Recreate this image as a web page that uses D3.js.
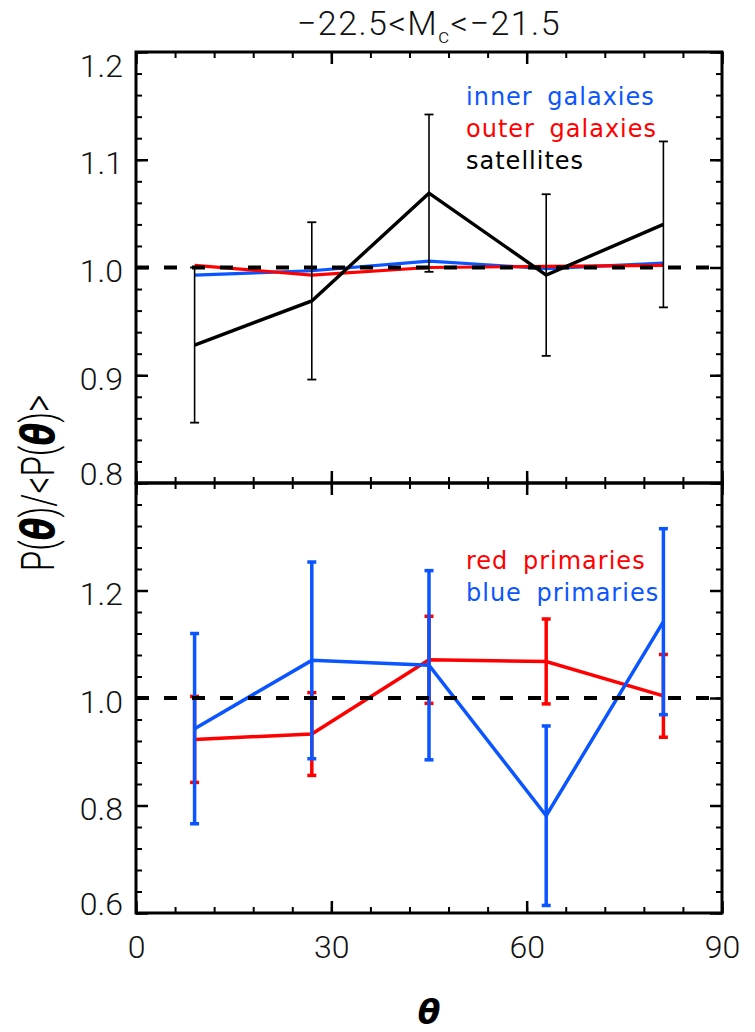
<!DOCTYPE html>
<html>
<head>
<meta charset="utf-8">
<script src="https://cdn.jsdelivr.net/npm/d3@7"></script>
<style>
  body { margin: 0; background: #fff; }
  svg { display: block; }
  .tk text { font-family: Roboto, "DejaVu Sans", sans-serif; font-weight: 300; font-size: 32px; fill: #111; }
</style>
</head>
<body>
<svg id="chart"></svg>
<script>
// angle bins (deg)
var theta = [9, 27, 45, 63, 81];

// top panel
var innerVals = [0.993, 0.997, 1.006, 0.999, 1.004];
var outerVals = [1.002, 0.993, 1.000, 1.001, 1.002];
var satVals = [0.928, 0.969, 1.069, 0.993, 1.040];
var satErr = [0.072, 0.073, 0.073, 0.075, 0.077];

// bottom panel
var redVals = [0.923, 0.933, 1.071, 1.068, 1.004];
var redErr = [0.080, 0.077, 0.081, 0.079, 0.077];
var blueVals = [0.943, 1.070, 1.061, 0.781, 1.142];
var blueErr = [0.177, 0.183, 0.176, 0.167, 0.173];

var xTicks = [0, 30, 60, 90];
var topTicks = [0.8, 0.9, 1.0, 1.1, 1.2];
var botTicks = [0.6, 0.8, 1.0, 1.2];

var BLUE = "#0a55ff", RED = "#ff0000";

var width = 755, height = 1032;
var left = 136, right = 722;
var svg = d3.select("#chart").attr("width", width).attr("height", height);

var x = d3.scaleLinear().domain([0, 90]).range([left, right]);
var yTop = d3.scaleLinear().domain([0.8, 1.2]).range([483, 52]);
var yBot = d3.scaleLinear().domain([0.6, 1.4]).range([913, 483]);

function drawFrame(y, ticks, minorStep, showX) {
  var y0 = y.range()[0], y1 = y.range()[1];
  var h = y0 - y1;
  var minorY = d3.range(y.domain()[0], y.domain()[1] + 1e-9, minorStep);
  var minorX = d3.range(0, 90.001, 6);

  // minor ticks
  svg.append("g").attr("class", "tk").attr("transform", "translate(" + left + ",0)")
    .call(d3.axisLeft(y).tickValues(minorY).tickSize(-6).tickFormat(""))
    .call(function (g) { g.select(".domain").remove(); g.selectAll("line").attr("stroke-width", 2); });
  svg.append("g").attr("class", "tk").attr("transform", "translate(" + right + ",0)")
    .call(d3.axisRight(y).tickValues(minorY).tickSize(-6).tickFormat(""))
    .call(function (g) { g.select(".domain").remove(); g.selectAll("line").attr("stroke-width", 2); });
  svg.append("g").attr("class", "tk").attr("transform", "translate(0," + y0 + ")")
    .call(d3.axisBottom(x).tickValues(minorX).tickSize(-6).tickFormat(""))
    .call(function (g) { g.select(".domain").remove(); g.selectAll("line").attr("stroke-width", 2); });
  svg.append("g").attr("class", "tk").attr("transform", "translate(0," + y1 + ")")
    .call(d3.axisTop(x).tickValues(minorX).tickSize(-6).tickFormat(""))
    .call(function (g) { g.select(".domain").remove(); g.selectAll("line").attr("stroke-width", 2); });

  // major ticks
  var yl = svg.append("g").attr("class", "tk").attr("transform", "translate(" + left + ",0)")
    .call(d3.axisLeft(y).tickValues(ticks).tickSize(-12).tickPadding(13).tickFormat(d3.format(".1f")));
  yl.select(".domain").remove();
  yl.selectAll("line").attr("stroke-width", 2.5);
  yl.selectAll("text").attr("dy", "0.38em").attr("transform", function (d) {
    if (Math.abs(d - y.domain()[1]) < 1e-9) return "translate(0,12)";
    if (Math.abs(d - y.domain()[0]) < 1e-9) return "translate(0,-11)";
    return "translate(0,2)";
  });
  svg.append("g").attr("class", "tk").attr("transform", "translate(" + right + ",0)")
    .call(d3.axisRight(y).tickValues(ticks).tickSize(-12).tickFormat(""))
    .call(function (g) { g.select(".domain").remove(); g.selectAll("line").attr("stroke-width", 2.5); });
  var xb = svg.append("g").attr("class", "tk").attr("transform", "translate(0," + y0 + ")")
    .call(d3.axisBottom(x).tickValues(xTicks).tickSize(-12).tickPadding(22).tickFormat(showX ? d3.format("d") : ""));
  xb.select(".domain").remove();
  xb.selectAll("line").attr("stroke-width", 2.5);
  svg.append("g").attr("class", "tk").attr("transform", "translate(0," + y1 + ")")
    .call(d3.axisTop(x).tickValues(xTicks).tickSize(-12).tickFormat(""))
    .call(function (g) { g.select(".domain").remove(); g.selectAll("line").attr("stroke-width", 2.5); });

  svg.append("rect")
    .attr("x", left).attr("y", y1)
    .attr("width", right - left).attr("height", h)
    .attr("fill", "none").attr("stroke", "#000").attr("stroke-width", 3);
}

function drawLine(y, vals, color, w) {
  var line = d3.line()
    .x(function (d, i) { return x(theta[i]); })
    .y(function (d) { return y(d); });
  svg.append("path")
    .attr("fill", "none").attr("stroke", color).attr("stroke-width", w)
    .attr("stroke-linejoin", "miter")
    .attr("d", line(vals));
}

function drawErr(y, vals, errs, color, w, capW, capH) {
  var g = svg.append("g");
  vals.forEach(function (v, i) {
    var cx = x(theta[i]);
    g.append("line")
      .attr("x1", cx).attr("x2", cx)
      .attr("y1", y(v + errs[i])).attr("y2", y(v - errs[i]))
      .attr("stroke", color).attr("stroke-width", w);
    [v + errs[i], v - errs[i]].forEach(function (e) {
      g.append("line")
        .attr("x1", cx - capW / 2).attr("x2", cx + capW / 2)
        .attr("y1", y(e)).attr("y2", y(e))
        .attr("stroke", color).attr("stroke-width", capH);
    });
  });
}

function drawDash(y) {
  svg.append("line")
    .attr("x1", left).attr("x2", right)
    .attr("y1", y(1)).attr("y2", y(1))
    .attr("stroke", "#000").attr("stroke-width", 4)
    .attr("stroke-dasharray", "13,15");
}

// top panel
drawLine(yTop, innerVals, BLUE, 3.2);
drawLine(yTop, outerVals, RED, 3.2);
drawDash(yTop);
drawErr(yTop, satVals, satErr, "#000", 1.6, 9, 1.8);
drawLine(yTop, satVals, "#000", 3.4);
drawFrame(yTop, topTicks, 0.02, false);

// bottom panel
drawErr(yBot, redVals, redErr, RED, 3.5, 9, 3.5);
drawLine(yBot, redVals, RED, 3.5);
drawErr(yBot, blueVals, blueErr, BLUE, 3.5, 9, 3.5);
drawLine(yBot, blueVals, BLUE, 3.5);
drawDash(yBot);
drawFrame(yBot, botTicks, 0.04, true);

// legends
function legend(items, y0) {
  items.forEach(function (it, i) {
    svg.append("text")
      .attr("x", 466).attr("y", y0 + i * 32)
      .attr("font-family", "DejaVu Sans, sans-serif")
      .attr("font-size", "24px")
      .attr("letter-spacing", "1px")
      .attr("word-spacing", "6px")
      .attr("fill", it[1])
      .text(it[0]);
  });
}
legend([["inner galaxies", BLUE], ["outer galaxies", RED], ["satellites", "#000"]], 105);
legend([["red primaries", RED], ["blue primaries", BLUE]], 569);

// title
var title = svg.append("text")
  .attr("x", (left + right) / 2).attr("y", 35)
  .attr("text-anchor", "middle")
  .attr("font-family", "Roboto, DejaVu Sans, sans-serif")
  .attr("font-weight", 300)
  .attr("font-size", "34px")
  .attr("letter-spacing", "1.5px")
  .attr("fill", "#111");
title.append("tspan").text("\u221222.5<M");
title.append("tspan").attr("font-size", "21px").attr("dy", 8).text("c");
title.append("tspan").attr("dy", -8).text("<\u221221.5");

// axis titles
svg.append("text")
  .attr("x", (left + right) / 2).attr("y", 1024)
  .attr("text-anchor", "middle")
  .attr("font-family", "DejaVu Sans, sans-serif")
  .attr("font-size", "33px").attr("font-weight", "bold").attr("font-style", "italic")
  .text("\u03b8");

var yt = svg.append("text")
  .attr("transform", "translate(54,483) rotate(-90) scale(0.72,1)")
  .attr("text-anchor", "middle")
  .attr("font-family", "Roboto, DejaVu Sans, sans-serif")
  .attr("font-size", "46px")
  .attr("font-weight", 300)
  .attr("fill", "#000");
yt.append("tspan").text("P(");
yt.append("tspan").attr("font-family", "DejaVu Sans, sans-serif").attr("font-weight", "bold").attr("font-style", "italic").text("\u03b8");
yt.append("tspan").text(")/<P(");
yt.append("tspan").attr("font-family", "DejaVu Sans, sans-serif").attr("font-weight", "bold").attr("font-style", "italic").text("\u03b8");
yt.append("tspan").text(")>");
</script>
</body>
</html>
